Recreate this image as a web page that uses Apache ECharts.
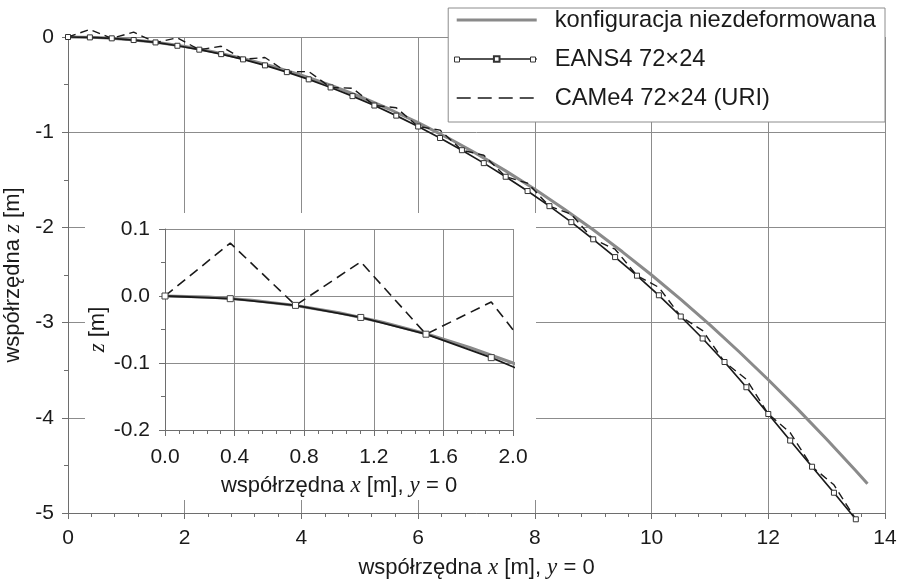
<!DOCTYPE html>
<html>
<head>
<meta charset="utf-8">
<script src="https://cdn.jsdelivr.net/npm/echarts@6/dist/echarts.min.js"></script>
<style>
  html, body { margin: 0; padding: 0; background: #fff; }
  #chart { width: 901px; height: 583px; }
</style>
</head>
<body>
<div id="chart"></div>
<script>
// Undeformed shell profile (x, z) in metres
const undeformedX = [0, 0.25, 0.5, 0.75, 1, 1.25, 1.5, 1.75, 2, 2.25, 2.5, 3, 3.5, 4, 4.5, 5, 5.5, 6, 6.5, 7, 7.5, 8, 8.5, 9, 9.5, 10, 10.5, 11, 11.5, 12, 12.5, 13, 13.5, 13.7];
const undeformedZ = [0, -0.0016, -0.0063, -0.0141, -0.025, -0.0391, -0.0563, -0.0766, -0.1, -0.1266, -0.1563, -0.225, -0.3063, -0.4, -0.5063, -0.625, -0.7563, -0.9, -1.0563, -1.225, -1.4063, -1.6, -1.8063, -2.025, -2.2563, -2.5, -2.7563, -3.025, -3.3063, -3.6, -3.9063, -4.225, -4.5563, -4.6923];

// Deformed mesh nodes along y = 0 (72x24 mesh, half span)
const nodeX = [0, 0.375, 0.75, 1.125, 1.5, 1.875, 2.25, 2.625, 3.0, 3.375, 3.75, 4.125, 4.5, 4.875, 5.25, 5.625, 6.0, 6.375, 6.75, 7.125, 7.5, 7.875, 8.25, 8.625, 9.0, 9.375, 9.75, 10.125, 10.5, 10.875, 11.25, 11.625, 12.0, 12.375, 12.75, 13.125, 13.5];
const eansZ = [0, -0.004, -0.014, -0.032, -0.057, -0.092, -0.133, -0.180, -0.235, -0.298, -0.369, -0.445, -0.530, -0.621, -0.720, -0.826, -0.940, -1.061, -1.189, -1.325, -1.468, -1.618, -1.777, -1.945, -2.125, -2.312, -2.507, -2.713, -2.936, -3.167, -3.414, -3.679, -3.960, -4.239, -4.514, -4.787, -5.066];
const cameZ = [0, 0.079, -0.014, 0.051, -0.057, -0.009, -0.133, -0.097, -0.235, -0.215, -0.369, -0.362, -0.530, -0.538, -0.720, -0.743, -0.940, -0.978, -1.189, -1.242, -1.468, -1.535, -1.777, -1.862, -2.125, -2.229, -2.507, -2.630, -2.936, -3.084, -3.414, -3.596, -3.960, -4.156, -4.514, -4.704, -5.066];

// Axis ticks
const mainXTicks = { min: 0, max: 14, step: 2 };
const mainZTicks = { min: -5, max: 0, step: 1 };
const insetXTicks = { min: 0, max: 2, step: 0.4 };
const insetZTicks = { min: -0.2, max: 0.1, step: 0.1 };

// Legend entries
const legendNames = ['konfiguracja niezdeformowana', 'EANS4 72×24', 'CAMe4 72×24 (URI)'];

const SANS = 'Liberation Sans, Arial, sans-serif';
const SERIF = 'Liberation Serif, Times New Roman, serif';
const INK = '#1a1a1a';
const GRID = '#8c8c8c';
const AXIS = '#6e6e6e';
const PLAIN = '#8a8a8a';
const NONE = 'rgba(0,0,0,0)';

const zip = (xs, ys) => xs.map((x, i) => [x, ys[i]]);

const nameRich = {
  n: { fontFamily: SANS, fontSize: 22, color: INK },
  i: { fontFamily: SERIF, fontStyle: 'italic', fontSize: 23, color: INK }
};

function fmt1(v) { return Math.abs(v) < 1e-9 ? '0.0' : v.toFixed(1); }

function axis(opts) {
  return Object.assign({
    type: 'value',
    axisLine: { show: true, onZero: false, lineStyle: { color: AXIS, width: 1 } },
    axisTick: { show: true, length: 6, lineStyle: { color: AXIS } },
    minorTick: { show: true, length: 4, lineStyle: { color: AXIS } },
    splitLine: { show: true, lineStyle: { color: GRID, width: 1 } },
    axisLabel: { fontFamily: SANS, fontSize: 21, color: INK },
    nameLocation: 'middle',
    nameTextStyle: { rich: nameRich }
  }, opts);
}

// small hollow square used at the ends of the EANS4 legend sample
function legendSquare(cx, cy) {
  return {
    type: 'rect', z: 20, silent: true,
    shape: { x: cx - 2.5, y: cy - 2.5, width: 5, height: 5 },
    style: { fill: '#fff', stroke: '#333', lineWidth: 1 }
  };
}

const chart = echarts.init(document.getElementById('chart'), null, { renderer: 'canvas' });

chart.setOption({
  backgroundColor: '#fff',
  animation: false,
  grid: [
    { left: 68, right: 16, top: 37, bottom: 70, containLabel: false, outerBoundsMode: 'none' },
    { left: 165, right: 388, top: 229, bottom: 153, containLabel: false, outerBoundsMode: 'none' }
  ],
  graphic: [
    {
      type: 'rect',
      z: 3,
      shape: { x: 85, y: 213, width: 451, height: 287 },
      style: { fill: '#fff' },
      silent: true
    },
    legendSquare(457, 59.5),
    legendSquare(533, 59.5)
  ],
  legend: {
    orient: 'vertical',
    right: 16,
    top: 8,
    itemWidth: 80,
    itemHeight: 7,
    itemGap: 15,
    padding: [0, 9, 12, 7],
    backgroundColor: '#fff',
    borderColor: '#8c8c8c',
    borderWidth: 1,
    lineStyle: { width: 'inherit' },
    textStyle: { fontFamily: SANS, fontSize: 23.7, color: INK, padding: [0, 0, 0, 13] },
    data: [
      { name: legendNames[0] },
      { name: legendNames[1] },
      { name: legendNames[2], lineStyle: { type: [14, 7] } }
    ]
  },
  xAxis: [
    axis({
      gridIndex: 0, min: mainXTicks.min, max: mainXTicks.max, interval: mainXTicks.step,
      minorTick: { show: true, splitNumber: 5, length: 4, lineStyle: { color: AXIS } },
      axisLabel: { fontFamily: SANS, fontSize: 21, color: INK, margin: 15 },
      name: '{n|współrzędna }{i|x}{n| [m], }{i|y}{n| = 0}',
      nameGap: 43
    }),
    axis({
      gridIndex: 1, min: insetXTicks.min, max: insetXTicks.max, interval: insetXTicks.step, z: 4,
      minorTick: { show: true, splitNumber: 5, length: 4, lineStyle: { color: AXIS } },
      axisLabel: { fontFamily: SANS, fontSize: 21, color: INK, margin: 17, formatter: fmt1 },
      name: '{n|współrzędna }{i|x}{n| [m], }{i|y}{n| = 0}',
      nameGap: 44
    })
  ],
  yAxis: [
    axis({
      gridIndex: 0, min: mainZTicks.min, max: mainZTicks.max, interval: mainZTicks.step,
      minorTick: { show: true, splitNumber: 2, length: 4, lineStyle: { color: AXIS } },
      axisLabel: { fontFamily: SANS, fontSize: 21, color: INK, margin: 14 },
      name: '{n|współrzędna }{i|z}{n| [m]}',
      nameGap: 34
    }),
    axis({
      gridIndex: 1, min: insetZTicks.min, max: insetZTicks.max, interval: insetZTicks.step, z: 4,
      minorTick: { show: true, splitNumber: 2, length: 4, lineStyle: { color: AXIS } },
      axisLabel: { fontFamily: SANS, fontSize: 21, color: INK, margin: 15, formatter: fmt1 },
      name: '{i|z}{n| [m]}',
      nameGap: 52
    })
  ],
  series: [
    {
      name: legendNames[0], type: 'line', xAxisIndex: 0, yAxisIndex: 0,
      data: zip(undeformedX, undeformedZ), symbol: 'rect', showSymbol: false, clip: false, z: 2,
      lineStyle: { color: PLAIN, width: 3 }, itemStyle: { color: NONE }
    },
    {
      name: legendNames[1], type: 'line', xAxisIndex: 0, yAxisIndex: 0,
      data: zip(nodeX, eansZ), symbol: 'rect', symbolSize: 5, clip: false, z: 2,
      lineStyle: { color: INK, width: 1.7 },
      itemStyle: { color: '#fff', borderColor: '#333', borderWidth: 1 }
    },
    {
      name: legendNames[2], type: 'line', xAxisIndex: 0, yAxisIndex: 0,
      data: zip(nodeX, cameZ), symbol: 'rect', showSymbol: false, clip: false, z: 2,
      lineStyle: { color: INK, width: 1.4, type: [8, 5] }, itemStyle: { color: NONE }
    },
    {
      name: legendNames[0], type: 'line', xAxisIndex: 1, yAxisIndex: 1,
      data: zip(undeformedX, undeformedZ), symbol: 'rect', showSymbol: false, z: 5,
      lineStyle: { color: PLAIN, width: 3 }, itemStyle: { color: NONE }
    },
    {
      name: legendNames[1], type: 'line', xAxisIndex: 1, yAxisIndex: 1,
      data: zip(nodeX, eansZ), symbol: 'rect', symbolSize: 6, z: 5,
      lineStyle: { color: INK, width: 1.8 },
      itemStyle: { color: '#fff', borderColor: '#444', borderWidth: 1 }
    },
    {
      name: legendNames[2], type: 'line', xAxisIndex: 1, yAxisIndex: 1,
      data: zip(nodeX, cameZ), symbol: 'rect', showSymbol: false, z: 5,
      lineStyle: { color: INK, width: 1.6, type: [10, 6] }, itemStyle: { color: NONE }
    }
  ]
});
</script>
</body>
</html>
